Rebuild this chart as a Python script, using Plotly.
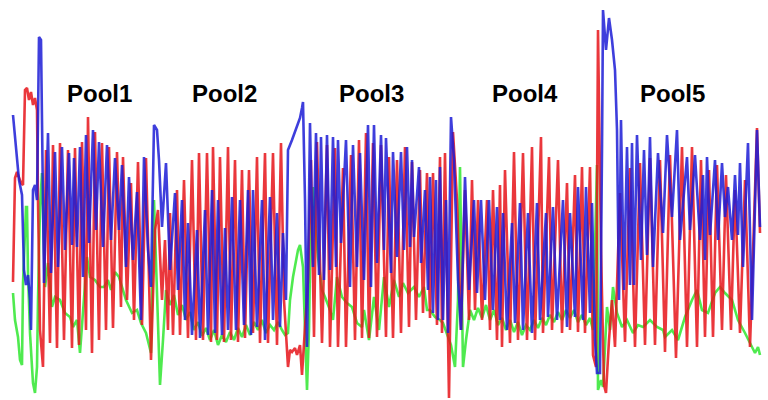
import plotly.graph_objects as go

red_samples = [(13,282),(15,178),(17,172),(19,178),(21,183),(23,185),(25,90),(27,88),(29,100),(31,92),(33,105),(35,98),(37,110),(38,200),(40,330),(43,367),(46,150),(50,343),(53,145),(57,348),(60,143),(64,340),(68,150),(72,348),(75,148),(79,345),(82,142),(86,330),(88,117),(92,353),(95,132),(99,340),(102,143),(106,330),(109,147),(113,328),(117,152),(121,307),(123,157),(127,300),(131,183),(134,320),(138,162),(142,325),(146,158),(151,360),(155,230),(158,210),(162,300),(165,240),(168,330),(170,213),(173,335),(177,190),(180,335),(184,180),(188,338),(192,160),(196,340),(199,153),(203,340),(207,153),(211,342),(213,147),(217,340),(220,157),(224,342),(228,147),(231,340),(235,160),(238,342),(242,170),(245,338),(249,170),(253,333),(257,157),(260,343),(265,153),(268,343),(273,153),(277,345),(281,143),(284,300),(288,367),(290,350),(292,352),(295,348),(297,355),(300,345),(302,375),(305,330),(308,280),(311,160),(314,337),(317,142),(322,343),(327,145),(330,347),(335,148),(338,347),(343,168),(346,347),(351,155),(355,340),(359,140),(362,338),(366,133),(369,338),(373,143),(377,337),(381,145),(386,337),(389,157),(393,338),(397,160),(401,333),(405,147),(409,327),(412,162),(416,320),(420,170),(423,313),(427,173),(430,318),(433,173),(437,325),(440,157),(442,333),(445,153),(449,398),(453,132),(457,200),(461,330),(465,190),(469,320),(472,180),(475,310),(478,200),(482,320),(487,200),(490,330),(493,190),(497,340),(500,185),(502,347),(505,170),(510,343),(514,152),(518,340),(523,153),(527,340),(532,147),(535,340),(541,137),(543,333),(549,157),(552,330),(558,160),(562,333),(567,183),(570,330),(575,175),(578,332),(582,167),(585,333),(590,167),(593,355),(596,367),(598,30),(601,250),(604,385),(606,393),(609,340),(612,300),(615,347),(620,193),(625,342),(630,168),(635,347),(640,163),(645,345),(650,158),(655,345),(660,160),(665,352),(670,155),(676,358),(682,147),(687,347),(692,147),(697,347),(701,160),(705,337),(709,170),(713,337),(717,165),(722,330),(726,175),(731,330),(735,190),(740,333),(745,180),(750,347),(757,128),(760,233)]

blue_samples = [(13,115),(16,150),(19,180),(22,195),(24,270),(26,285),(28,275),(30,300),(31,330),(33,190),(35,185),(37,200),(38,90),(39,37),(41,40),(42,143),(44,283),(48,133),(51,273),(55,152),(58,267),(62,147),(65,250),(69,153),(72,245),(74,158),(77,247),(80,147),(83,277),(86,135),(89,243),(93,130),(96,230),(99,142),(103,247),(107,145),(111,240),(115,158),(119,230),(122,165),(126,267),(129,177),(133,260),(137,192),(141,320),(144,157),(148,250),(151,287),(154,125),(157,130),(159,160),(162,227),(166,163),(170,270),(175,193),(178,290),(182,200),(185,320),(188,223),(192,335),(197,230),(200,338),(205,210),(208,335),(212,190),(215,333),(218,200),(222,335),(225,228),(228,330),(232,197),(236,330),(240,200),(244,325),(248,190),(251,335),(253,190),(257,327),(262,200),(265,340),(270,197),(273,320),(277,213),(280,327),(283,233),(286,300),(288,150),(292,140),(296,128),(298,123),(300,118),(302,108),(303,102),(305,200),(307,347),(310,123),(313,267),(316,133),(319,275),(321,137),(324,280),(327,135),(330,270),(333,137),(336,267),(338,140),(341,243),(346,140),(350,287),(353,145),(357,267),(360,153),(364,280),(368,125),(371,287),(374,125),(377,263),(381,135),(384,250),(386,138),(391,273),(393,152),(397,257),(401,152),(404,250),(407,147),(410,247),(412,160),(414,237),(419,167),(421,263),(425,190),(428,290),(430,177),(433,313),(436,180),(438,320),(440,167),(443,320),(446,200),(448,333),(451,117),(454,160),(458,280),(461,330),(465,177),(469,290),(474,200),(477,293),(481,200),(485,300),(489,200),(493,310),(497,207),(500,320),(503,213),(507,330),(512,223),(515,323),(520,203),(523,330),(528,213),(532,333),(537,203),(540,320),(546,213),(548,317),(553,207),(557,320),(563,200),(567,327),(570,213),(575,317),(578,187),(583,320),(586,187),(590,313),(592,203),(595,340),(597,373),(600,373),(602,150),(603,10),(606,50),(609,18),(612,40),(615,70),(617,130),(619,300),(621,120),(624,290),(627,147),(630,285),(632,143),(634,285),(637,135),(641,260),(644,150),(647,255),(650,137),(653,267),(658,153),(663,233),(667,135),(672,217),(677,130),(680,240),(687,157),(690,230),(695,155),(700,240),(703,175),(705,260),(707,157),(710,235),(715,160),(718,240),(722,163),(725,217),(728,187),(732,240),(735,175),(738,235),(740,163),(743,267),(748,143),(752,320),(757,130),(760,227)]

green_samples = [(13,293),(15,320),(18,337),(20,360),(22,365),(23,283),(26,207),(27,207),(28,273),(30,333),(32,367),(33,383),(35,393),(37,367),(38,300),(40,207),(42,173),(45,287),(48,263),(52,307),(55,297),(60,300),(65,313),(70,317),(73,327),(77,320),(80,353),(83,307),(87,257),(90,277),(95,280),(100,287),(104,287),(108,280),(111,290),(115,272),(119,277),(126,300),(132,313),(137,310),(141,323),(146,333),(151,353),(154,200),(157,300),(160,385),(163,340),(166,290),(170,305),(174,295),(178,315),(182,305),(186,320),(190,312),(194,330),(198,322),(202,336),(206,328),(210,340),(214,330),(218,345),(222,335),(226,342),(230,332),(234,340),(238,328),(242,337),(246,325),(250,335),(254,322),(258,330),(262,320),(266,333),(270,325),(274,330),(278,322),(282,330),(285,335),(288,333),(290,300),(293,277),(296,260),(298,250),(300,245),(302,258),(303,267),(305,330),(307,390),(309,330),(310,267),(313,187),(315,223),(318,257),(322,290),(325,297),(330,310),(333,320),(337,277),(342,297),(347,303),(352,307),(357,323),(362,327),(364,310),(369,340),(374,297),(379,330),(384,277),(389,307),(394,280),(399,297),(403,283),(408,293),(414,287),(419,297),(424,287),(427,310),(430,310),(435,317),(440,320),(443,323),(447,335),(451,345),(455,367),(458,300),(460,167),(462,300),(463,367),(466,340),(470,310),(474,320),(478,308),(482,318),(486,305),(490,320),(494,310),(498,325),(502,318),(506,330),(510,320),(514,332),(518,322),(522,335),(526,325),(530,330),(534,320),(538,328),(542,318),(546,325),(550,315),(554,322),(558,312),(562,320),(566,310),(570,318),(574,310),(578,322),(582,315),(586,325),(590,318),(593,330),(595,250),(597,165),(598,390),(601,380),(603,387),(607,307),(610,330),(613,287),(617,313),(622,327),(627,320),(633,333),(638,325),(643,327),(650,320),(657,327),(663,330),(665,337),(672,330),(678,340),(685,317),(692,300),(697,290),(702,310),(708,313),(715,293),(720,287),(725,293),(732,300),(738,320),(745,333),(750,343),(755,353),(758,347),(760,355)]

pool_labels = ["Pool1", "Pool2", "Pool3", "Pool4", "Pool5"]
pool_label_t = [99, 224, 371, 525, 672]

fig = go.Figure()
series = [("green", green_samples, "#30e630"),
          ("red", red_samples, "#e6141a"),
          ("blue", blue_samples, "#1c1cd6")]
for name, samples, color in series:
    t = [p[0] for p in samples]
    v = [p[1] for p in samples]
    fig.add_trace(go.Scatter(x=t, y=v, mode="lines", name=name,
                             line=dict(color=color, width=2.6),
                             opacity=0.85, hoverinfo="skip"))

for lab, tx in zip(pool_labels, pool_label_t):
    fig.add_annotation(x=tx, y=93, text="<b>" + lab + "</b>", showarrow=False,
                       font=dict(family="Liberation Sans, Arial", size=24, color="black"),
                       xanchor="center", yanchor="middle")

fig.update_layout(width=768, height=400, margin=dict(l=0, r=0, t=0, b=0),
                  paper_bgcolor="white", plot_bgcolor="white", showlegend=False,
                  hovermode=False,
                  xaxis=dict(range=[0, 768], visible=False),
                  yaxis=dict(range=[400, 0], visible=False))
fig.write_html("out.html", config={"displayModeBar": False, "staticPlot": True},
               post_script="document.body.style.margin='0';document.body.style.overflow='hidden';")
